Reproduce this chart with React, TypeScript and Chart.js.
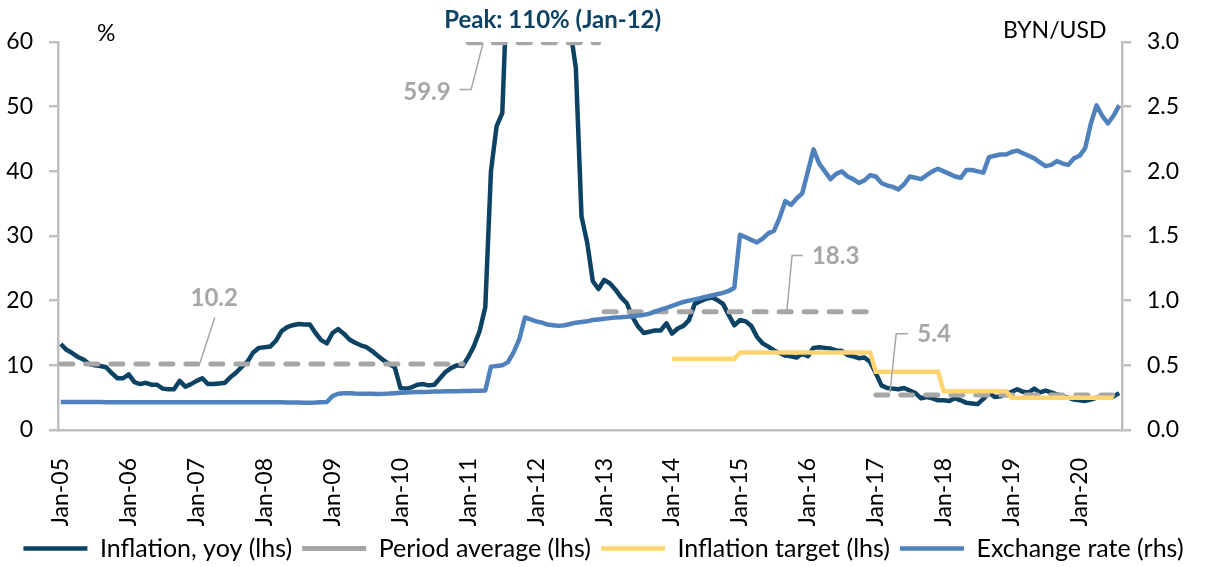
import React, { useEffect, useRef } from 'react';
import { Chart, registerables } from 'chart.js';

Chart.register(...registerables);

// ---------- data ----------
const monthNames = ['Jan', 'Feb', 'Mar', 'Apr', 'May', 'Jun', 'Jul', 'Aug', 'Sep', 'Oct', 'Nov', 'Dec'];
const yearSuffixes = ['05', '06', '07', '08', '09', '10', '11', '12', '13', '14', '15', '16', '17', '18', '19', '20'];
const categories: string[] = yearSuffixes
  .flatMap((yy) => monthNames.map((m) => `${m}-${yy}`))
  .slice(0, 188); // Jan-05 .. Aug-20

// Inflation, yoy (%), lhs
const inflationYoy: number[] = [
  13.3, 12.4, 11.9, 11.3, 10.9, 10.2, 10.0, 9.9, 9.7, 8.8, 8.0, 8.0, // 2005
  8.6, 7.4, 7.1, 7.3, 7.0, 7.0, 6.4, 6.3, 6.3, 7.6, 6.7, 7.1, // 2006
  7.6, 8.0, 7.1, 7.1, 7.2, 7.3, 8.2, 8.9, 9.8, 10.6, 12.0, 12.7, // 2007
  12.8, 12.9, 13.8, 15.3, 15.9, 16.2, 16.4, 16.3, 16.3, 15.0, 13.9, 13.4, // 2008
  15.0, 15.6, 14.9, 14.0, 13.5, 13.1, 12.8, 12.2, 11.5, 10.8, 10.2, 9.7, // 2009
  6.5, 6.4, 6.6, 7.0, 7.1, 6.9, 7.0, 8.0, 9.0, 9.6, 10.0, 9.9, // 2010
  11.3, 13.0, 15.3, 19.0, 40.0, 47.0, 49.0, 72.0, 89.0, 104.0, 108.7, 109.5, // 2011
  110.0, 105.0, 98.0, 89.0, 80.0, 71.0, 62.0, 56.0, 33.0, 29.0, 23.0, 21.8, // 2012
  23.2, 22.7, 21.7, 20.5, 19.6, 17.5, 16.0, 15.0, 15.2, 15.4, 15.4, 16.5, // 2013
  14.9, 15.7, 16.1, 17.0, 19.5, 19.9, 20.3, 20.5, 20.1, 19.5, 17.8, 16.2, // 2014
  17.0, 16.8, 16.1, 14.4, 13.4, 12.9, 12.3, 11.9, 11.5, 11.4, 11.2, 11.8, // 2015
  11.4, 12.7, 12.8, 12.7, 12.6, 12.3, 12.2, 11.6, 11.4, 11.1, 11.2, 10.5, // 2016
  8.8, 6.9, 6.5, 6.4, 6.3, 6.5, 6.1, 5.7, 4.9, 5.1, 4.9, 4.6, // 2017
  4.6, 4.5, 4.9, 4.6, 4.2, 4.1, 4.0, 4.8, 5.8, 5.1, 5.2, 5.6, // 2018
  5.9, 6.3, 5.9, 5.8, 6.4, 5.8, 6.1, 5.8, 5.5, 5.2, 5.0, 4.7, // 2019
  4.6, 4.5, 4.7, 5.0, 5.0, 5.0, 5.2, 5.7, // 2020
];

// Exchange rate, BYN/USD, rhs
const exchangeRate: number[] = [
  0.217, 0.217, 0.216, 0.216, 0.216, 0.216, 0.216, 0.216, 0.215, 0.215, 0.215, 0.215, // 2005
  0.215, 0.215, 0.215, 0.215, 0.215, 0.214, 0.214, 0.214, 0.214, 0.214, 0.214, 0.214, // 2006
  0.214, 0.215, 0.215, 0.215, 0.215, 0.215, 0.215, 0.215, 0.215, 0.215, 0.215, 0.215, // 2007
  0.215, 0.215, 0.214, 0.214, 0.213, 0.212, 0.212, 0.211, 0.211, 0.212, 0.214, 0.216, // 2008
  0.262, 0.28, 0.285, 0.284, 0.282, 0.281, 0.281, 0.28, 0.279, 0.28, 0.282, 0.285, // 2009
  0.288, 0.29, 0.291, 0.293, 0.294, 0.295, 0.297, 0.298, 0.299, 0.3, 0.3, 0.301, // 2010
  0.302, 0.303, 0.304, 0.305, 0.49, 0.495, 0.5, 0.525, 0.6, 0.7, 0.87, 0.855, // 2011
  0.84, 0.83, 0.815, 0.81, 0.805, 0.81, 0.82, 0.83, 0.835, 0.84, 0.85, 0.855, // 2012
  0.86, 0.865, 0.87, 0.872, 0.875, 0.88, 0.885, 0.89, 0.9, 0.915, 0.93, 0.945, // 2013
  0.96, 0.975, 0.99, 1.0, 1.01, 1.02, 1.03, 1.04, 1.05, 1.06, 1.075, 1.1, // 2014
  1.51, 1.49, 1.47, 1.45, 1.48, 1.52, 1.54, 1.64, 1.77, 1.74, 1.79, 1.83, // 2015
  2.0, 2.17, 2.06, 2.0, 1.94, 1.98, 2.0, 1.96, 1.94, 1.91, 1.93, 1.97, // 2016
  1.96, 1.91, 1.89, 1.88, 1.86, 1.9, 1.96, 1.95, 1.94, 1.97, 2.0, 2.02, // 2017
  2.0, 1.98, 1.96, 1.95, 2.01, 2.01, 2.0, 1.99, 2.11, 2.12, 2.13, 2.13, // 2018
  2.15, 2.16, 2.14, 2.12, 2.1, 2.07, 2.04, 2.05, 2.08, 2.06, 2.05, 2.1, // 2019
  2.12, 2.18, 2.37, 2.51, 2.43, 2.37, 2.43, 2.51, // 2020
];

// Period averages (lhs)
const periodAverages = [
  { from: 'Jan-05', to: 'Dec-10', value: 10.2 },
  { from: 'Jan-11', to: 'Dec-12', value: 59.9 },
  { from: 'Jan-13', to: 'Dec-16', value: 18.3 },
  { from: 'Jan-17', to: 'Aug-20', value: 5.4 },
];

// Inflation targets (lhs)
const inflationTargets = [
  { from: 'Jan-14', to: 'Dec-14', value: 11 },
  { from: 'Jan-15', to: 'Dec-16', value: 12 },
  { from: 'Jan-17', to: 'Dec-17', value: 9 },
  { from: 'Jan-18', to: 'Dec-18', value: 6 },
  { from: 'Jan-19', to: 'Jul-20', value: 5 },
];

const leftTicks = [0, 10, 20, 30, 40, 50, 60];
const rightTicks = [0, 0.5, 1.0, 1.5, 2.0, 2.5, 3.0];

// annotations (category index, lhs value)
const averageLabels = [
  { text: '10.2', at: [27.1, 20.4] },
  { text: '59.9', at: [64.7, 52.3] },
  { text: '18.3', at: [136.9, 26.8] },
  { text: '5.4', at: [154.3, 14.8] },
];
const leaderLines: number[][][] = [
  [[27.2, 17.4], [24.6, 10.4]],
  [[70.4, 52.65], [72.5, 52.65], [74.6, 59.8]],
  [[128.3, 18.5], [129.2, 27.0], [131.1, 27.0]],
  [[146.5, 5.8], [147.6, 14.9], [149.7, 14.9]],
];
const peakLabel = { text: 'Peak: 110% (Jan-12)', at: [86.9, 63.3] };
const unitLabels = [
  { text: '%', at: [8.0, 61.3] },
  { text: 'BYN/USD', at: [175.6, 61.8] },
];

// ---------- helpers ----------
const fromSegments = (segs: { from: string; to: string; value: number }[]) =>
  categories.map((_, i) => {
    const s = segs.find((g) => i >= categories.indexOf(g.from) && i <= categories.indexOf(g.to));
    return s ? s.value : null;
  });

const DARK = '#0C4263';
const GRAY = '#A6A6A6';
const YELLOW = '#FFD471';
const BLUE = '#4F81BD';
const AXIS = '#BFBFBF';
const FONT = 'Lato';

const annotationPlugin = {
  id: 'annotations',
  afterDatasetsDraw(chart: any) {
    const { ctx } = chart;
    const x = chart.scales.x;
    const y = chart.scales.y;
    const px = (p: number[]) => [x.getPixelForValue(p[0]), y.getPixelForValue(p[1])];
    ctx.save();
    ctx.strokeStyle = GRAY;
    ctx.lineWidth = 1.5;
    leaderLines.forEach((pts) => {
      ctx.beginPath();
      pts.forEach((p, k) => {
        const [a, b] = px(p);
        if (k === 0) ctx.moveTo(a, b);
        else ctx.lineTo(a, b);
      });
      ctx.stroke();
    });
    ctx.textAlign = 'center';
    ctx.textBaseline = 'middle';
    ctx.fillStyle = GRAY;
    ctx.font = `bold 24px ${FONT}`;
    averageLabels.forEach((l) => {
      const [a, b] = px(l.at);
      ctx.fillText(l.text, a, b);
    });
    ctx.fillStyle = DARK;
    ctx.font = `bold 24px ${FONT}`;
    {
      const [a, b] = px(peakLabel.at);
      ctx.fillText(peakLabel.text, a, b);
    }
    ctx.fillStyle = '#000';
    ctx.font = `23px ${FONT}`;
    unitLabels.forEach((l) => {
      const [a, b] = px(l.at);
      ctx.fillText(l.text, a, b);
    });
    ctx.restore();
  },
};

export default function App() {
  const canvasRef = useRef<HTMLCanvasElement>(null);

  useEffect(() => {
    if (!canvasRef.current) return;
    Chart.defaults.font.family = FONT;
    const chart = new Chart(canvasRef.current, {
      type: 'line',
      data: {
        labels: categories,
        datasets: [
          {
            label: 'Inflation, yoy (lhs)',
            data: inflationYoy,
            borderColor: DARK,
            backgroundColor: DARK,
            borderWidth: 4.5,
            pointRadius: 0,
            yAxisID: 'y',
            order: 4,
            borderJoinStyle: 'round',
          },
          {
            label: 'Period average (lhs)',
            data: fromSegments(periodAverages),
            borderColor: GRAY,
            backgroundColor: GRAY,
            borderWidth: 5,
            borderDash: [12, 13],
            borderCapStyle: 'round',
            pointRadius: 0,
            yAxisID: 'y',
            order: 3,
            spanGaps: false,
            segment: {
              borderColor: (c: any) => (c.p0.parsed.y !== c.p1.parsed.y ? 'rgba(0,0,0,0)' : undefined),
            },
          },
          {
            label: 'Inflation target (lhs)',
            data: fromSegments(inflationTargets),
            borderColor: YELLOW,
            backgroundColor: YELLOW,
            borderWidth: 4.5,
            pointRadius: 0,
            yAxisID: 'y',
            order: 2,
            spanGaps: false,
          },
          {
            label: 'Exchange rate (rhs)',
            data: exchangeRate,
            borderColor: BLUE,
            backgroundColor: BLUE,
            borderWidth: 4.5,
            pointRadius: 0,
            yAxisID: 'y1',
            order: 1,
            borderJoinStyle: 'round',
          },
        ],
      },
      options: {
        responsive: false,
        animation: false,
        events: [],
        layout: { padding: { top: 42, left: 0, right: 0, bottom: 0 } },
        scales: {
          x: {
            type: 'category',
            offset: true,
            grid: { display: false },
            border: { display: true, color: AXIS, width: 2.5 },
            ticks: {
              autoSkip: false,
              maxRotation: 90,
              minRotation: 90,
              padding: 20,
              color: '#000',
              font: { size: 23 },
              callback: (_v: any, i: number) => (i % 12 === 0 ? categories[i] : ''),
            },
            afterFit: (s: any) => {
              s.height = 96;
            },
          },
          y: {
            position: 'left',
            min: 0,
            max: 60,
            afterBuildTicks: (s: any) => {
              s.ticks = leftTicks.map((v) => ({ value: v }));
            },
            grid: { drawOnChartArea: false, drawTicks: true, tickLength: 9, color: AXIS, lineWidth: 2.5 },
            border: { display: true, color: AXIS, width: 2.5 },
            ticks: { color: '#000', font: { size: 23 }, padding: 16 },
            afterFit: (s: any) => {
              s.width = 58;
            },
          },
          y1: {
            position: 'right',
            min: 0,
            max: 3,
            afterBuildTicks: (s: any) => {
              s.ticks = rightTicks.map((v) => ({ value: v }));
            },
            grid: { drawOnChartArea: false, drawTicks: true, tickLength: 9, color: AXIS, lineWidth: 2.5 },
            border: { display: true, color: AXIS, width: 2.5 },
            ticks: {
              color: '#000',
              font: { size: 23 },
              padding: 16,
              callback: (v: any) => Number(v).toFixed(1),
            },
            afterFit: (s: any) => {
              s.width = 85;
            },
          },
        },
        plugins: {
          legend: {
            position: 'bottom',
            labels: {
              usePointStyle: true,
              pointStyle: 'line',
              pointStyleWidth: 64,
              color: '#000',
              font: { size: 25 },
              padding: 10,
              sort: (a: any, b: any) => a.datasetIndex - b.datasetIndex,
            },
          },
          tooltip: { enabled: false },
        },
      },
      plugins: [annotationPlugin],
    } as any);
    return () => chart.destroy();
  }, []);

  return (
    <div style={{ position: 'absolute', left: 0, top: 0, width: 1207, height: 567, overflow: 'hidden', background: '#fff' }}>
      <canvas ref={canvasRef} width={1207} height={571} style={{ display: 'block' }} />
    </div>
  );
}
